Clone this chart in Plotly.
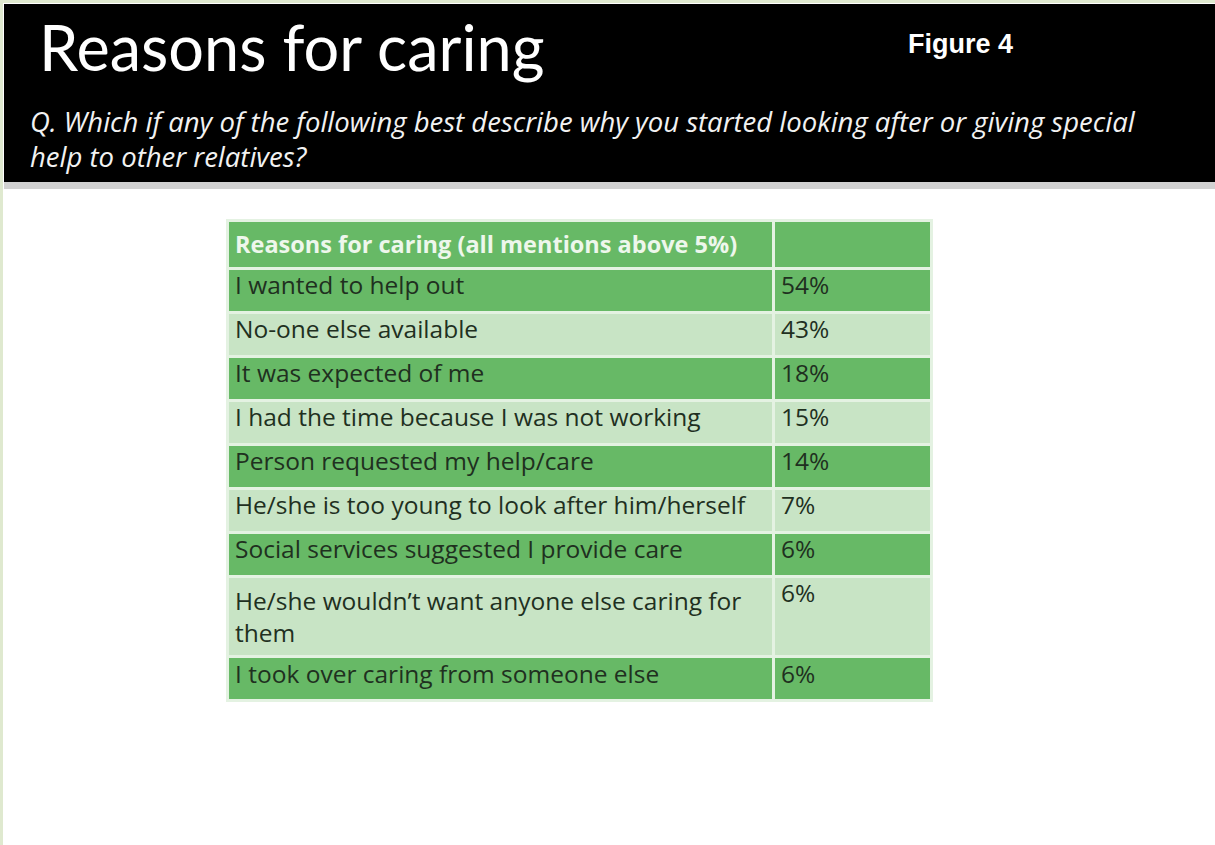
import plotly.graph_objects as go

W, H = 1215, 845

header_labels = ["Reasons for caring (all mentions above 5%)", ""]
reasons = [
    "I wanted to help out",
    "No-one else available",
    "It was expected of me",
    "I had the time because I was not working",
    "Person requested my help/care",
    "He/she is too young to look after him/herself",
    "Social services suggested I provide care",
    "He/she wouldn\u2019t want anyone else caring for<br>them",
    "I took over caring from someone else",
]
values = [54, 43, 18, 15, 14, 7, 6, 6, 6]

title_text = "Reasons for caring"
subtitle_lines = [
    "Q. Which if any of the following best describe why you started looking after or giving special",
    "help to other relatives?",
]
figure_label = "Figure 4"

DARK = "#67b966"
LIGHT = "#c8e4c5"
GRID = "#e4f2e2"
row_colors = [DARK if i % 2 == 0 else LIGHT for i in range(len(reasons))]

fig = go.Figure()
fig.add_trace(go.Table(
    domain=dict(x=[227 / W, 931 / W], y=[0.0, 1 - 220 / H]),
    columnwidth=[546, 158],
    header=dict(
        values=[f"<b>{header_labels[0]}</b>", header_labels[1]],
        fill_color=DARK,
        line=dict(color=GRID, width=3),
        font=dict(family="Open Sans", size=23.5, color="#eef7ec"),
        align="left",
        height=44,
    ),
    cells=dict(
        values=[reasons, [f"{v}%" for v in values]],
        fill_color=[row_colors, row_colors],
        line=dict(color=GRID, width=3),
        font=dict(family="Open Sans", size=24.5, color="#1f301f"),
        align="left",
        height=44,
    ),
))

# slide background decorations
fig.add_shape(type="rect", xref="paper", yref="paper", x0=0, x1=1, y0=0, y1=1,
              line=dict(width=0), fillcolor="white", layer="below")
fig.add_shape(type="rect", xref="paper", yref="paper", x0=0, x1=3 / W, y0=0, y1=1,
              line=dict(width=0), fillcolor="#dfe9cf", layer="below")
fig.add_shape(type="rect", xref="paper", yref="paper", x0=0, x1=1, y0=1 - 3 / H, y1=1,
              line=dict(width=0), fillcolor="#dfe9cf", layer="below")
fig.add_shape(type="rect", xref="paper", yref="paper", x0=4 / W, x1=1, y0=1 - 189 / H, y1=1 - 179 / H,
              line=dict(width=0), fillcolor="#d2d2d2", layer="below")
fig.add_shape(type="rect", xref="paper", yref="paper", x0=4 / W, x1=1, y0=1 - 182 / H, y1=1 - 4 / H,
              line=dict(width=0), fillcolor="black", layer="below")

fig.add_annotation(text=title_text, xref="paper", yref="paper", x=37 / W, y=1 - 47 / H,
                   xanchor="left", yanchor="middle", showarrow=False,
                   font=dict(family="Lato", size=63, color="white"))
fig.add_annotation(text=f"<b>{figure_label}</b>", xref="paper", yref="paper", x=906 / W, y=1 - 44 / H,
                   xanchor="left", yanchor="middle", showarrow=False,
                   font=dict(family="Liberation Sans", size=27, color="white"))
for i, line in enumerate(subtitle_lines):
    fig.add_annotation(text=f"<i>{line}</i>", xref="paper", yref="paper", x=28 / W,
                       y=1 - (121 + 36 * i) / H,
                       xanchor="left", yanchor="middle", showarrow=False, align="left",
                       font=dict(family="Open Sans", size=27.5, color="#f2f2f2"))

fig.update_layout(width=W, height=H, margin=dict(l=0, r=0, t=0, b=0),
                  paper_bgcolor="white", plot_bgcolor="white")
fig.write_html("out.html", config={"displayModeBar": False},
               post_script="document.body.style.margin='0';document.body.style.overflow='hidden';")
